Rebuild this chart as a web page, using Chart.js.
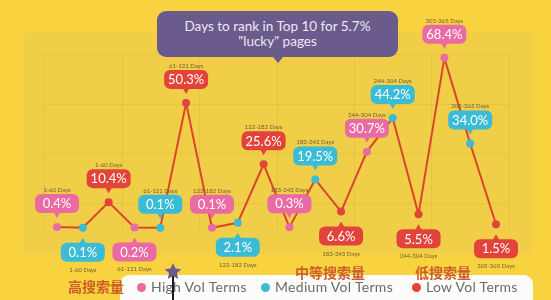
<!DOCTYPE html>
<html>
<head>
<meta charset="utf-8">
<script src="https://cdn.jsdelivr.net/npm/chart.js@4.4.1/dist/chart.umd.min.js"></script>
<style>
  html, body { margin: 0; padding: 0; }
  body { width: 551px; height: 300px; overflow: hidden; position: relative; background: #F8D23F; font-family: Lato, "Open Sans", sans-serif; }
  #rankChart { position: absolute; left: 0; top: 0; }
  .title-box {
    position: absolute; left: 157px; top: 11px; width: 241px; height: 46px;
    background: #6B5B8D; border-radius: 9px; color: #ECE8F4;
    font-size: 13.5px; line-height: 15px; text-align: center; box-sizing: border-box; padding-top: 8px;
  }
  .title-box:after {
    content: ""; position: absolute; left: 116px; bottom: -6px;
    border-left: 5px solid transparent; border-right: 5px solid transparent; border-top: 6px solid #6B5B8D;
  }
  .legend-box {
    position: absolute; left: 120px; top: 275px; width: 413px; height: 40px;
    background: #FCFCFA; border-radius: 9px;
  }
  .legend-item { position: absolute; top: 278px; font-size: 14px; letter-spacing: 0.3px; color: #6A6A6A; white-space: nowrap; }
  .legend-item i { display: inline-block; width: 9px; height: 9px; border-radius: 50%; margin-right: 5px; vertical-align: 0px; }
  .cn { position: absolute; font-family: "Noto Sans CJK SC", sans-serif; font-weight: bold; font-size: 14px; color: #CD5F2B; }
  .star { position: absolute; left: 164px; top: 262px; }
</style>
</head>
<body>
<canvas id="rankChart" width="551" height="300"></canvas>
<div class="title-box">Days to rank in Top 10 for 5.7%<br>"lucky" pages</div>
<div class="legend-box"></div>
<div id="legend"></div>
<div class="cn" style="left:68px; top:276px;">高搜索量</div>
<div class="cn" style="left:295px; top:262px;">中等搜索量</div>
<div class="cn" style="left:415px; top:262px;">低搜索量</div>
<svg class="star" width="20" height="40" viewBox="0 0 20 40">
  <line x1="9" y1="12" x2="9" y2="40" stroke="#1d1a22" stroke-width="2"/>
  <polygon points="9,1 11.4,6.6 17.4,7.2 12.9,11.1 14.2,17 9,14 3.8,17 5.1,11.1 0.6,7.2 6.6,6.6" fill="#6B5B8D"/>
</svg>
<script>
// data
const buckets = ['1-60 Days', '61-121 Days', '122-182 Days', '183-243 Days', '244-304 Days', '305-365 Days'];
const seriesNames = ['High Vol Terms', 'Medium Vol Terms', 'Low Vol Terms'];
const highVol = [0.4, 0.2, 0.1, 0.3, 30.7, 68.4];
const mediumVol = [0.1, 0.1, 2.1, 19.5, 44.2, 34.0];
const lowVol = [10.4, 50.3, 25.6, 6.6, 5.5, 1.5];

// styling
const seriesColors = ['#EA6BA3', '#3BBCD6', '#E2433A'];
const lineColor = '#D9462C';
// label side per series and bucket: 1 = above the point, -1 = below
const labelSide = [
  [1, -1, 1, 1, 1, 1],
  [-1, 1, -1, 1, 1, 1],
  [1, 1, 1, -1, -1, -1]
];

const allSeries = [highVol, mediumVol, lowVol];
const labels = [];
const values = [];
const pointColors = [];
const pointSeries = [];
const pointBucket = [];
buckets.forEach((b, i) => {
  allSeries.forEach((s, j) => {
    labels.push(b);
    values.push(s[i]);
    pointColors.push(seriesColors[j]);
    pointSeries.push(j);
    pointBucket.push(i);
  });
});

// legend
const legendEl = document.getElementById('legend');
const legendX = [137, 261, 412];
seriesNames.forEach((name, i) => {
  const d = document.createElement('div');
  d.className = 'legend-item';
  d.style.left = legendX[i] + 'px';
  d.innerHTML = '<i style="background:' + seriesColors[i] + '"></i>' + name;
  legendEl.appendChild(d);
});

function roundRect(c, x, y, w, h, r) {
  c.beginPath();
  c.moveTo(x + r, y);
  c.arcTo(x + w, y, x + w, y + h, r);
  c.arcTo(x + w, y + h, x, y + h, r);
  c.arcTo(x, y + h, x, y, r);
  c.arcTo(x, y, x + w, y, r);
  c.closePath();
}

const panelPlugin = {
  id: 'panel',
  beforeDatasetsDraw(chart) {
    const c = chart.ctx;
    const xs = chart.scales.x, ys = chart.scales.y;
    const step = xs.getPixelForValue(1) - xs.getPixelForValue(0);
    const x0 = xs.getPixelForValue(0);
    c.save();
    c.fillStyle = '#F1CE47';
    roundRect(c, 24, 32, 508, 222, 7);
    c.fill();
    c.strokeStyle = 'rgba(190,160,40,0.22)';
    c.lineWidth = 1;
    const left = x0 - step * 0.5, right = x0 + step * 17.5;
    [10, 30, 50, 70].forEach(v => {
      const y = Math.round(ys.getPixelForValue(v)) + 0.5;
      c.beginPath(); c.moveTo(left, y); c.lineTo(right, y); c.stroke();
    });
    for (let k = 0; k <= 6; k++) {
      const x = Math.round(x0 + (3 * k - 0.5) * step) + 0.5;
      c.beginPath(); c.moveTo(x, ys.getPixelForValue(70)); c.lineTo(x, ys.getPixelForValue(-1)); c.stroke();
    }
    c.restore();
  }
};

const bubblePlugin = {
  id: 'bubbles',
  afterDatasetsDraw(chart) {
    const c = chart.ctx;
    const meta = chart.getDatasetMeta(0);
    c.save();
    meta.data.forEach((pt, i) => {
      const s = pointSeries[i], b = pointBucket[i];
      const side = labelSide[s][b];
      const w = 44, h = 19;
      const x = pt.x, y = pt.y;
      let top, tipY, baseY, capY;
      if (side > 0) {
        tipY = y - 9; baseY = y - 14; top = baseY - h; capY = top - 4;
      } else {
        tipY = y + 10; baseY = y + 15; top = baseY; capY = top + h + 8;
      }
      c.fillStyle = seriesColors[s];
      roundRect(c, x - w / 2, top, w, h, 6);
      c.fill();
      c.beginPath();
      c.moveTo(x - 3.5, baseY + (side > 0 ? -1 : 1));
      c.lineTo(x + 3.5, baseY + (side > 0 ? -1 : 1));
      c.lineTo(x, tipY);
      c.closePath();
      c.fill();
      c.fillStyle = '#ffffff';
      c.font = '13px Lato, "Open Sans", sans-serif';
      c.textAlign = 'center';
      c.textBaseline = 'middle';
      c.fillText(values[i].toFixed(1) + '%', x, top + h / 2 + 0.5);
      c.fillStyle = '#6E5E3A';
      c.font = '6px Lato, sans-serif';
      c.fillText(labels[i], x, capY);
    });
    c.restore();
  }
};

new Chart(document.getElementById('rankChart'), {
  type: 'line',
  data: {
    labels: labels,
    datasets: [{
      data: values,
      borderColor: lineColor,
      borderWidth: 2,
      tension: 0,
      pointRadius: 4,
      pointBorderWidth: 0,
      pointBackgroundColor: pointColors,
      clip: false
    }]
  },
  options: {
    responsive: false,
    animation: false,
    events: [],
    layout: { padding: { left: 57, right: 55, top: 29, bottom: 72 } },
    plugins: { legend: { display: false }, tooltip: { enabled: false } },
    scales: {
      x: { display: false, offset: false },
      y: { display: false, min: 0, max: 80 }
    }
  },
  plugins: [panelPlugin, bubblePlugin]
});
</script>
</body>
</html>
